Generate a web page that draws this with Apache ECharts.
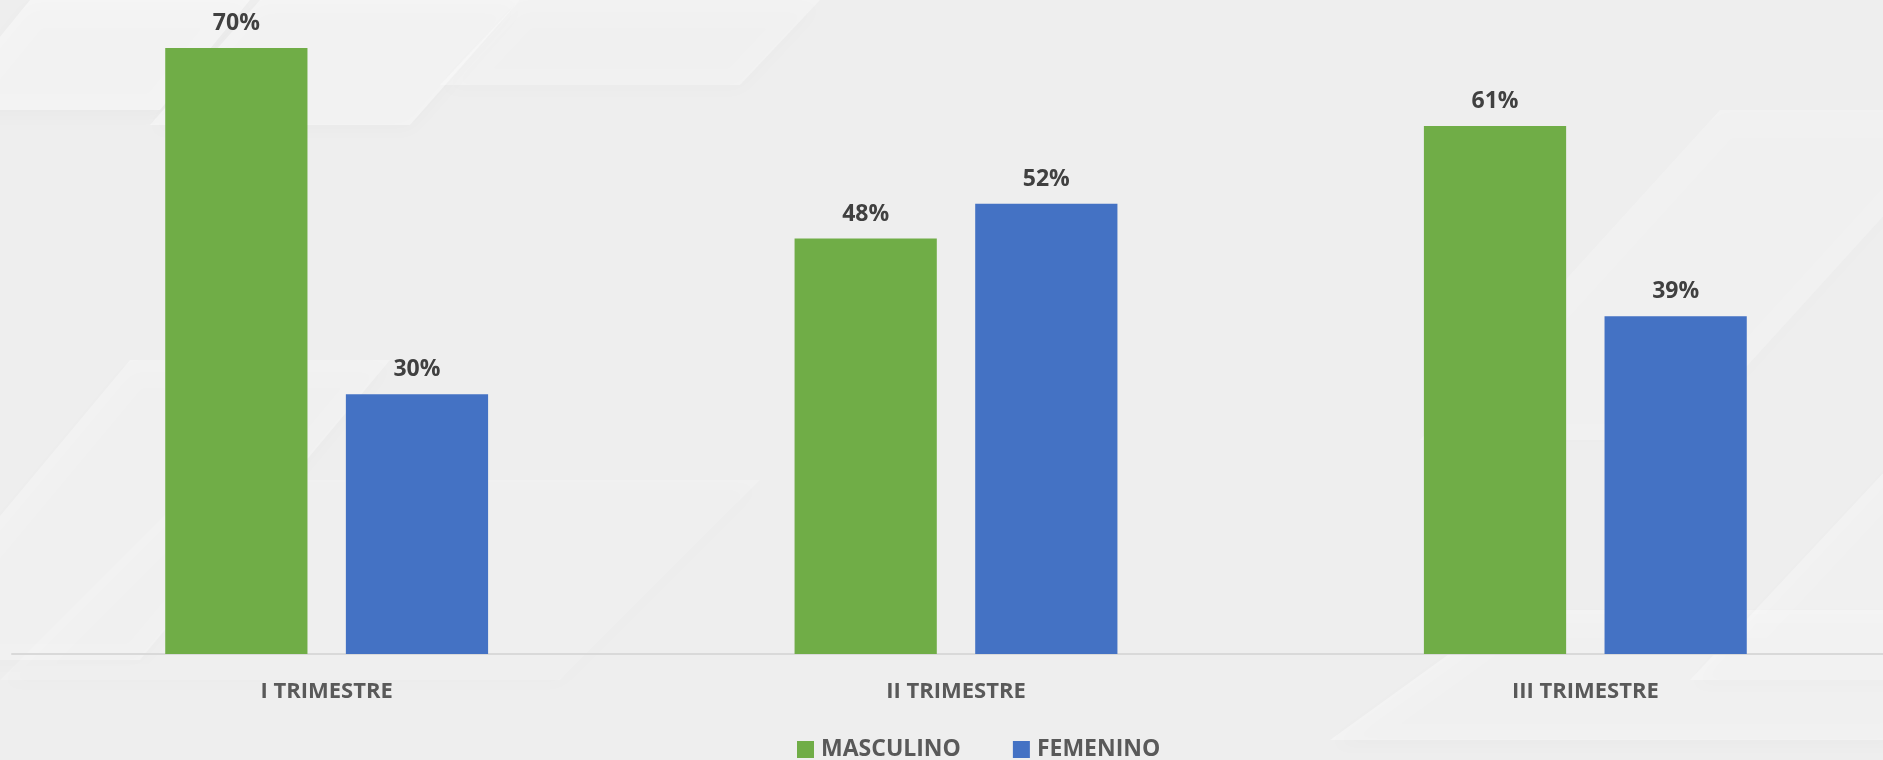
<!DOCTYPE html>
<html>
<head>
<meta charset="utf-8">
<script src="https://cdn.jsdelivr.net/npm/echarts@6/dist/echarts.min.js"></script>
<style>
  html, body { margin: 0; padding: 0; background: #efefef; }
  #chart { width: 1883px; height: 760px; }
</style>
</head>
<body>
<div id="chart"></div>
<script>
  // datos
  const categorias = ['I TRIMESTRE', 'II TRIMESTRE', 'III TRIMESTRE']
  const masculino = [70, 48, 61]
  const femenino = [30, 52, 39]

  const FONT = '"Open Sans", "Noto Sans", sans-serif'

  // franjas diagonales del fondo (solo decoración)
  function franja(x, y, w, h, skew, fill) {
    return {
      type: 'polygon',
      silent: true,
      z: -10,
      shape: { points: [[x + skew, y], [x + skew + w, y], [x + w, y + h], [x, y + h]] },
      style: { fill: fill, shadowBlur: 18, shadowColor: 'rgba(0,0,0,0.05)', shadowOffsetY: 6 }
    }
  }

  let chart = echarts.init(document.getElementById('chart'))
  chart.setOption({
    backgroundColor: '#eeeeee',
    animation: false,
    graphic: [
      franja(-60, 0, 220, 110, 90, 'rgba(255,255,255,0.45)'),
      franja(150, 0, 260, 125, 110, 'rgba(255,255,255,0.4)'),
      franja(440, 0, 300, 85, 80, 'rgba(255,255,255,0.3)'),
      franja(-120, 360, 260, 300, 250, 'rgba(255,255,255,0.3)'),
      franja(0, 480, 560, 200, 200, 'rgba(255,255,255,0.2)'),
      franja(1420, 110, 260, 330, 300, 'rgba(255,255,255,0.25)'),
      franja(1330, 610, 560, 130, 180, 'rgba(255,255,255,0.35)'),
      franja(1690, 380, 220, 300, 280, 'rgba(255,255,255,0.3)')
    ],
    grid: {
      left: 12,
      width: 1888,
      top: 48,
      bottom: 106,
      containLabel: false,
      outerBoundsMode: 'none'
    },
    legend: {
      left: 792,
      top: 733,
      itemWidth: 17,
      itemHeight: 17,
      itemGap: 52,
      icon: 'rect',
      textStyle: {
        color: '#595959',
        fontFamily: FONT,
        fontWeight: 'bold',
        fontSize: 23,
        padding: [0, 0, 0, 2]
      },
      data: ['MASCULINO', 'FEMENINO']
    },
    xAxis: {
      type: 'category',
      data: categorias,
      axisTick: { show: false },
      axisLine: { lineStyle: { color: '#d9d9d9', width: 2 } },
      axisLabel: {
        color: '#595959',
        fontFamily: FONT,
        fontWeight: 'bold',
        fontSize: 22,
        margin: 27
      }
    },
    yAxis: {
      type: 'value',
      min: 0,
      max: 70,
      show: false,
      splitLine: { show: false }
    },
    series: [
      {
        name: 'MASCULINO',
        type: 'bar',
        data: masculino,
        barWidth: '22.6%',
        barGap: '27%',
        itemStyle: { color: '#70ad47' },
        label: {
          show: true,
          position: 'top',
          distance: 13,
          formatter: '{c}%',
          color: '#404040',
          fontFamily: FONT,
          fontWeight: 'bold',
          fontSize: 23
        }
      },
      {
        name: 'FEMENINO',
        type: 'bar',
        data: femenino,
        barWidth: '22.6%',
        itemStyle: { color: '#4472c4' },
        label: {
          show: true,
          position: 'top',
          distance: 13,
          formatter: '{c}%',
          color: '#404040',
          fontFamily: FONT,
          fontWeight: 'bold',
          fontSize: 23
        }
      }
    ]
  })
</script>
</body>
</html>
